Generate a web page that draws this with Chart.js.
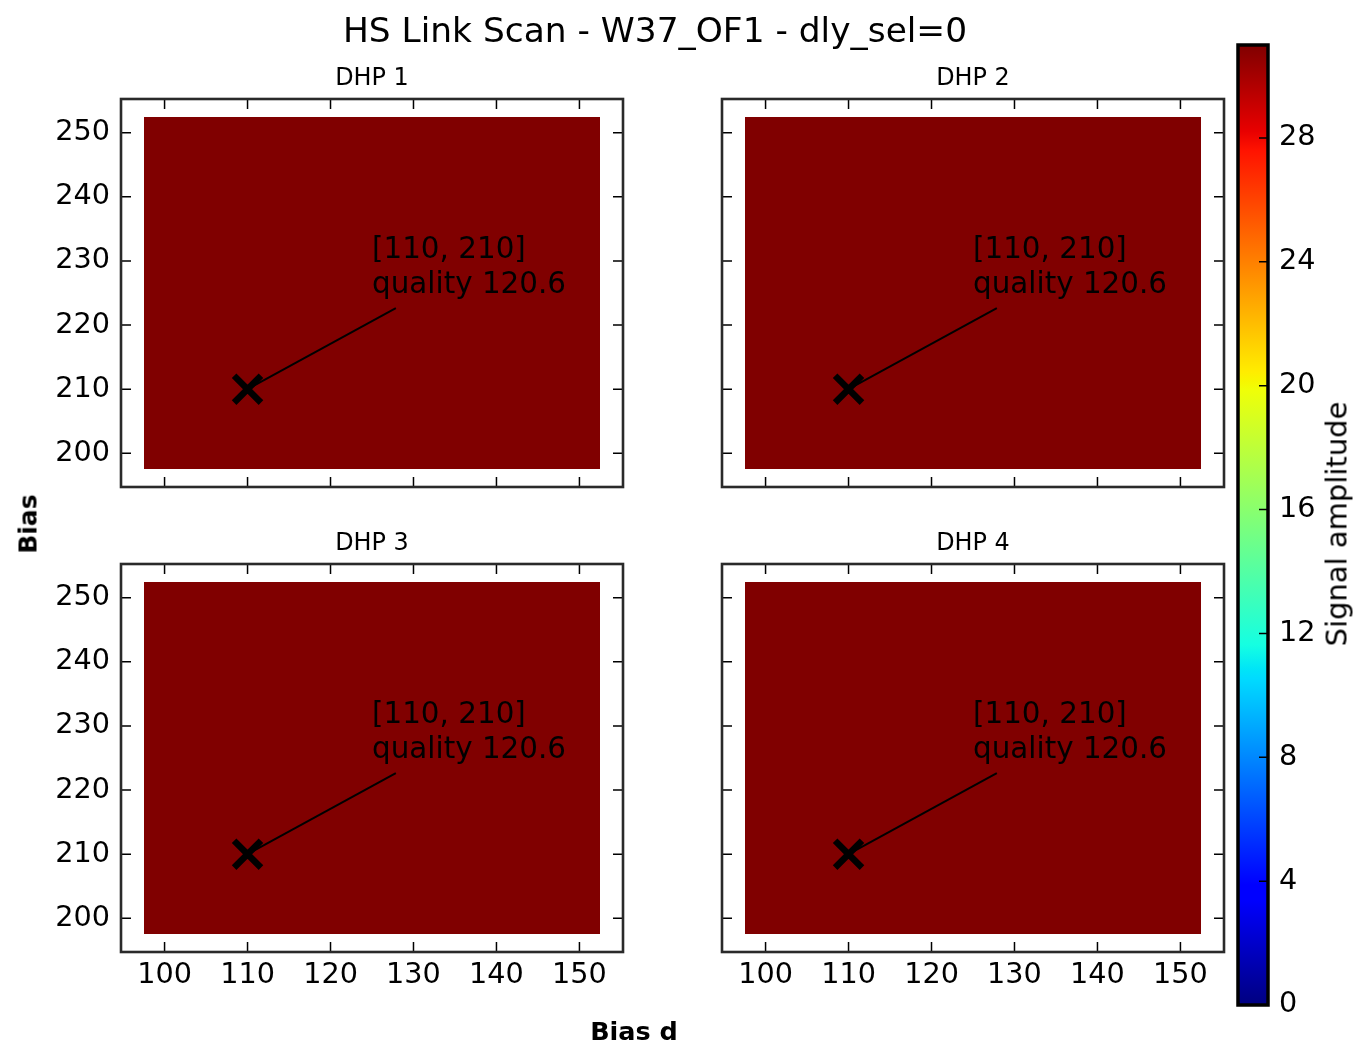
<!DOCTYPE html>
<html>
<head>
<meta charset="utf-8">
<title>HS Link Scan - W37_OF1 - dly_sel=0</title>
<script src="https://cdn.jsdelivr.net/npm/chart.js@4.4.1/dist/chart.umd.min.js"></script>
<style>
  body { margin: 0; background: #fff; }
  #fig { position: relative; width: 1354px; height: 1045px; font-family: "DejaVu Sans", sans-serif; color: #000; overflow: hidden; }
  #fig canvas { position: absolute; left: 0; top: 0; }
  .lbl { position: absolute; white-space: nowrap; line-height: 1; transform: translate(-50%, -50%); }
  .rot { transform: translate(-50%, -50%) rotate(-90deg); }
</style>
</head>
<body>
<div id="fig">
  <canvas id="dhp1" width="1354" height="1045"></canvas>
  <canvas id="dhp2" width="1354" height="1045"></canvas>
  <canvas id="dhp3" width="1354" height="1045"></canvas>
  <canvas id="dhp4" width="1354" height="1045"></canvas>
  <canvas id="cbar" width="1354" height="1045"></canvas>
  <div class="lbl" style="left:655px; top:30px; font-size:34.4px;">HS Link Scan - W37_OF1 - dly_sel=0</div>
  <div class="lbl rot" style="left:28px; top:524px; font-size:25px; font-weight:bold;">Bias</div>
  <div class="lbl" style="left:634px; top:1032px; font-size:25.5px; font-weight:bold;">Bias d</div>
  <div class="lbl rot" style="left:1337px; top:524px; font-size:29px;">Signal amplitude</div>
</div>
<script>
// scan grid (cell centres)
const biasD = [100, 105, 110, 115, 120, 125, 130, 135, 140, 145, 150];
const bias = [200, 205, 210, 215, 220, 225, 230, 235, 240, 245, 250];
const biasDTicks = [100, 110, 120, 130, 140, 150];
const biasTicks = [200, 210, 220, 230, 240, 250];
const ampTicks = [0, 4, 8, 12, 16, 20, 24, 28];
const ampMax = 31;

const dhpNames = ["DHP 1", "DHP 2", "DHP 3", "DHP 4"];

// signal amplitude, one row per bias value, one column per bias d value
const amplitude = [
  [31, 31, 31, 31, 31, 31, 31, 31, 31, 31, 31],
  [31, 31, 31, 31, 31, 31, 31, 31, 31, 31, 31],
  [31, 31, 31, 31, 31, 31, 31, 31, 31, 31, 31],
  [31, 31, 31, 31, 31, 31, 31, 31, 31, 31, 31],
  [31, 31, 31, 31, 31, 31, 31, 31, 31, 31, 31],
  [31, 31, 31, 31, 31, 31, 31, 31, 31, 31, 31],
  [31, 31, 31, 31, 31, 31, 31, 31, 31, 31, 31],
  [31, 31, 31, 31, 31, 31, 31, 31, 31, 31, 31],
  [31, 31, 31, 31, 31, 31, 31, 31, 31, 31, 31],
  [31, 31, 31, 31, 31, 31, 31, 31, 31, 31, 31],
  [31, 31, 31, 31, 31, 31, 31, 31, 31, 31, 31],
];

// best working point found by the scan
const bestPoint = [110, 210];
const bestQuality = 120.6;

const FONT = "DejaVu Sans";
const W = 1354, H = 1045;

// matplotlib "jet"
const jetR = [[0, 0], [0.35, 0], [0.66, 1], [0.89, 1], [1, 0.5]];
const jetG = [[0, 0], [0.125, 0], [0.375, 1], [0.64, 1], [0.91, 0], [1, 0]];
const jetB = [[0, 0.5], [0.11, 1], [0.34, 1], [0.65, 0], [1, 0]];

function interp(pts, t) {
  for (let i = 1; i < pts.length; i++) {
    if (t <= pts[i][0]) {
      const [t0, v0] = pts[i - 1], [t1, v1] = pts[i];
      return v0 + (v1 - v0) * (t - t0) / (t1 - t0);
    }
  }
  return pts[pts.length - 1][1];
}

function jet(t) {
  t = Math.min(1, Math.max(0, t));
  const c = [jetR, jetG, jetB].map(p => Math.round(interp(p, t) * 255));
  return `rgb(${c[0]},${c[1]},${c[2]})`;
}

const halfX = (biasD[1] - biasD[0]) / 2;
const halfY = (bias[1] - bias[0]) / 2;
const xLo = biasD[0] - halfX, xHi = biasD[biasD.length - 1] + halfX;
const yLo = bias[0] - halfY, yHi = bias[bias.length - 1] + halfY;
const xPad = (xHi - xLo) * 0.05, yPad = (yHi - yLo) * 0.05;

const panels = [
  { id: "dhp1", left: 121, top: 99, right: 623, bottom: 487, xLabels: false, yLabels: true },
  { id: "dhp2", left: 722, top: 99, right: 1224, bottom: 487, xLabels: false, yLabels: false },
  { id: "dhp3", left: 121, top: 564, right: 623, bottom: 952, xLabels: true, yLabels: true },
  { id: "dhp4", left: 722, top: 564, right: 1224, bottom: 952, xLabels: true, yLabels: false },
];

// room reserved for the tick labels (labels are clipped to the scale box)
const Y_AXIS_W = 100;
const X_AXIS_H = 60;

const heatmapPlugin = {
  id: "heatmap",
  beforeDatasetsDraw(chart) {
    const { ctx, scales: { x, y } } = chart;
    ctx.save();
    amplitude.forEach((row, j) => {
      row.forEach((v, i) => {
        const x0 = Math.round(x.getPixelForValue(biasD[i] - halfX));
        const x1 = Math.round(x.getPixelForValue(biasD[i] + halfX));
        const y0 = Math.round(y.getPixelForValue(bias[j] + halfY));
        const y1 = Math.round(y.getPixelForValue(bias[j] - halfY));
        ctx.fillStyle = jet(v / ampMax);
        ctx.fillRect(x0, y0, x1 - x0, y1 - y0);
      });
    });
    ctx.restore();
  },
};

const annotatePlugin = {
  id: "annotate",
  afterDatasetsDraw(chart, args, opts) {
    const { ctx, scales: { x, y } } = chart;
    const lines = [`[${bestPoint[0]}, ${bestPoint[1]}]`, `quality ${bestQuality}`];
    const fs = opts.size, lh = fs * 1.18;
    ctx.save();
    ctx.font = `${fs}px "${FONT}"`;
    const tx = x.getPixelForValue(opts.textAt[0]);
    const ty = y.getPixelForValue(opts.textAt[1]);
    const w = Math.max(...lines.map(l => ctx.measureText(l).width));
    const boxTop = ty - lh * (lines.length - 1) - fs * 0.76;
    const boxBottom = ty + fs * 0.24;
    const cx = tx + w / 2, cy = (boxTop + boxBottom) / 2;

    // connector from the point towards the text centre, stopped below the text
    const px = x.getPixelForValue(bestPoint[0]);
    const py = y.getPixelForValue(bestPoint[1]);
    const stopY = boxBottom + 8;
    const f = (py - stopY) / (py - cy);
    ctx.strokeStyle = "#000";
    ctx.lineWidth = 2;
    ctx.beginPath();
    ctx.moveTo(px, py);
    ctx.lineTo(px + (cx - px) * f, stopY);
    ctx.stroke();

    ctx.fillStyle = "#000";
    ctx.textAlign = "left";
    ctx.textBaseline = "alphabetic";
    lines.forEach((l, k) => ctx.fillText(l, tx, ty - lh * (lines.length - 1 - k)));
    ctx.restore();
  },
};

// axes box with inward ticks on all four sides
const framePlugin = {
  id: "frame",
  afterDraw(chart) {
    const { ctx, chartArea: a, scales: { x, y } } = chart;
    const len = 10;
    ctx.save();
    ctx.strokeStyle = "#000";
    ctx.lineWidth = 1.5;
    ctx.beginPath();
    biasDTicks.forEach(v => {
      const px = x.getPixelForValue(v);
      ctx.moveTo(px, a.bottom); ctx.lineTo(px, a.bottom - len);
      ctx.moveTo(px, a.top); ctx.lineTo(px, a.top + len);
    });
    biasTicks.forEach(v => {
      const py = y.getPixelForValue(v);
      ctx.moveTo(a.left, py); ctx.lineTo(a.left + len, py);
      ctx.moveTo(a.right, py); ctx.lineTo(a.right - len, py);
    });
    ctx.stroke();
    ctx.strokeStyle = "#2a2a2a";
    ctx.lineWidth = 2.6;
    ctx.strokeRect(a.left, a.top, a.right - a.left, a.bottom - a.top);
    ctx.restore();
  },
};

const tickFont = { family: FONT, size: 28.7 };
const titleSize = 23.9;

panels.forEach((p, k) => {
  const titleH = titleSize * 1.2 + 6;
  new Chart(document.getElementById(p.id), {
    type: "scatter",
    data: {
      datasets: [{
        data: [{ x: bestPoint[0], y: bestPoint[1] }],
        pointStyle: "crossRot",
        radius: 19,
        hoverRadius: 19,
        borderWidth: 6.5,
        hoverBorderWidth: 6.5,
        borderColor: "#000",
        backgroundColor: "#000",
      }],
    },
    options: {
      responsive: false,
      animation: false,
      events: [],
      layout: {
        padding: {
          left: p.left - Y_AXIS_W,
          right: W - p.right,
          top: p.top - titleH,
          bottom: H - p.bottom - X_AXIS_H,
        },
      },
      plugins: {
        legend: { display: false },
        tooltip: { enabled: false },
        title: {
          display: true,
          fullSize: false,
          text: dhpNames[k],
          color: "#000",
          font: { family: FONT, size: titleSize, weight: "normal", lineHeight: 1.2 },
          padding: { top: 0, bottom: 6 },
        },
        annotate: { textAt: [125, 225], size: 29.4 },
      },
      scales: {
        x: {
          type: "linear",
          min: xLo - xPad,
          max: xHi + xPad,
          afterBuildTicks: s => { s.ticks = biasDTicks.map(v => ({ value: v })); },
          afterFit: s => { s.height = X_AXIS_H; },
          grid: { display: false, drawTicks: false },
          border: { display: false },
          ticks: { display: p.xLabels, padding: 6, maxRotation: 0, autoSkip: false, color: "#000", font: tickFont },
        },
        y: {
          type: "linear",
          min: yLo - yPad,
          max: yHi + yPad,
          afterBuildTicks: s => { s.ticks = biasTicks.map(v => ({ value: v })); },
          afterFit: s => { s.width = Y_AXIS_W; },
          grid: { display: false, drawTicks: false },
          border: { display: false },
          ticks: { display: p.yLabels, padding: 11, autoSkip: false, color: "#000", font: tickFont },
        },
      },
    },
    plugins: [heatmapPlugin, annotatePlugin, framePlugin],
  });
});

// colour bar
function jetGradient(chart) {
  const { ctx, chartArea, scales } = chart;
  if (!chartArea) return jet(1);
  const y = scales.y;
  const g = ctx.createLinearGradient(0, y.getPixelForValue(0), 0, y.getPixelForValue(ampMax));
  const stops = new Set([0, 1, ...jetR.map(s => s[0]), ...jetG.map(s => s[0]), ...jetB.map(s => s[0])]);
  [...stops].sort((a, b) => a - b).forEach(t => g.addColorStop(t, jet(t)));
  return g;
}

const cbarFramePlugin = {
  id: "cbarFrame",
  afterDraw(chart) {
    const { ctx, chartArea: a, scales: { y } } = chart;
    ctx.save();
    ctx.strokeStyle = "#000";
    ctx.lineWidth = 1.5;
    ctx.beginPath();
    ampTicks.forEach(v => {
      const py = y.getPixelForValue(v);
      ctx.moveTo(a.right, py); ctx.lineTo(a.right - 9, py);
    });
    ctx.stroke();
    ctx.lineWidth = 3.5;
    ctx.strokeRect(a.left, a.top, a.right - a.left, a.bottom - a.top);
    ctx.restore();
  },
};

const CBAR_AXIS_W = 70;

new Chart(document.getElementById("cbar"), {
  type: "bar",
  data: {
    labels: ["Signal amplitude"],
    datasets: [{
      data: [[0, ampMax]],
      backgroundColor: ctx => jetGradient(ctx.chart),
      borderWidth: 0,
      barPercentage: 1,
      categoryPercentage: 1,
    }],
  },
  options: {
    responsive: false,
    animation: false,
    events: [],
    layout: { padding: { left: 1238, right: W - 1268 - CBAR_AXIS_W, top: 45, bottom: H - 1005 } },
    plugins: { legend: { display: false }, tooltip: { enabled: false } },
    scales: {
      x: { display: false },
      y: {
        position: "right",
        min: 0,
        max: ampMax,
        afterBuildTicks: s => { s.ticks = ampTicks.map(v => ({ value: v })); },
        afterFit: s => { s.width = CBAR_AXIS_W; },
        grid: { display: false, drawTicks: false },
        border: { display: false },
        ticks: { padding: 11, autoSkip: false, color: "#000", font: tickFont },
      },
    },
  },
  plugins: [cbarFramePlugin],
});
</script>
</body>
</html>
